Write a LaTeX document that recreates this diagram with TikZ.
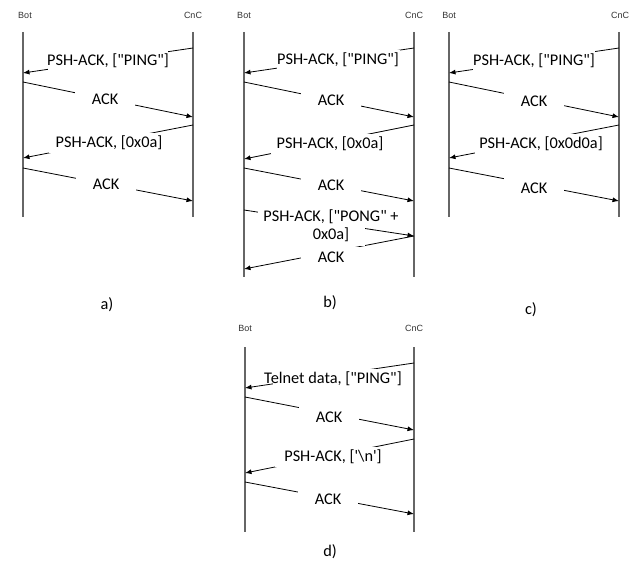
\documentclass[tikz,border=0pt]{standalone}
\usepackage{fontspec}
\setmainfont{Carlito}[Ligatures=TeXOff]
\newfontfamily\hdrfont{Liberation Sans}
\usetikzlibrary{arrows.meta}
\begin{document}
\begin{tikzpicture}[x=1pt,y=-1pt,
  life/.style={draw=black!60, line width=1.3pt},
  msg/.style={draw=black, line width=0.8pt, -{Latex[length=6.5pt,width=5pt]}},
  lbl/.style={fill=white, inner sep=0pt, minimum height=20pt, font=\fontsize{16.3}{19}\selectfont, text=black},
  ack/.style={lbl, minimum width=60pt},
  psh/.style={lbl, minimum width=120pt},
  hdr/.style={font=\hdrfont\fontsize{9}{10}\selectfont, text=black!80, inner sep=0pt},
  captxt/.style={font=\fontsize{16.3}{19}\selectfont, inner sep=0pt}]
\useasboundingbox (0,0) rectangle (636,567);

% ---------------- panel a ----------------
\coordinate (aBt) at (23,32); \coordinate (aBb) at (23,217);
\coordinate (aCt) at (193,32); \coordinate (aCb) at (193,217);
\node[hdr] (aBot) at (25,15) {Bot};
\node[hdr] (aCnC) at (193,15) {CnC};
\draw[life] (aBt) -- (aBb);
\draw[life] (aCt) -- (aCb);
\coordinate (a1s) at (193,48);  \coordinate (a1e) at (23,73);
\coordinate (a2s) at (23,82);   \coordinate (a2e) at (193,117);
\coordinate (a3s) at (193,125); \coordinate (a3e) at (23,158);
\coordinate (a4s) at (23,168);  \coordinate (a4e) at (193,201);
\draw[msg] (a1s) -- (a1e);
\draw[msg] (a2s) -- (a2e);
\draw[msg] (a3s) -- (a3e);
\draw[msg] (a4s) -- (a4e);
\node[psh] (a1l) at (108,61) {\makebox[0pt]{PSH-ACK, ["PING"]}};
\node[ack] (a2l) at (105,99.5) {\makebox[0pt]{ACK}};
\node[psh] (a3l) at (109,143) {\makebox[0pt]{PSH-ACK, [0x0a]}};
\node[ack] (a4l) at (106,184) {\makebox[0pt]{ACK}};
\node[captxt] (acap) at (107,305) {a)};

% ---------------- panel b ----------------
\coordinate (bBt) at (244,32); \coordinate (bBb) at (244,277);
\coordinate (bCt) at (414,32); \coordinate (bCb) at (414,277);
\node[hdr] (bBot) at (244,15) {Bot};
\node[hdr] (bCnC) at (414,15) {CnC};
\draw[life] (bBt) -- (bBb);
\draw[life] (bCt) -- (bCb);
\coordinate (b1s) at (414,48);  \coordinate (b1e) at (244,73);
\coordinate (b2s) at (244,82);  \coordinate (b2e) at (414,117);
\coordinate (b3s) at (414,125); \coordinate (b3e) at (244,159);
\coordinate (b4s) at (244,168); \coordinate (b4e) at (414,201);
\coordinate (b5s) at (244,210); \coordinate (b5e) at (414,236);
\coordinate (b6s) at (414,236); \coordinate (b6e) at (244,269);
\draw[msg] (b1s) -- (b1e);
\draw[msg] (b2s) -- (b2e);
\draw[msg] (b3s) -- (b3e);
\draw[msg] (b4s) -- (b4e);
\draw[msg] (b5s) -- (b5e);
\draw[msg] (b6s) -- (b6e);
\node[lbl, minimum width=123pt] (b1l) at (338,60) {\makebox[0pt]{PSH-ACK, ["PING"]}};
\node[ack] (b2l) at (331,100) {\makebox[0pt]{ACK}};
\node[lbl, minimum width=118pt] (b3l) at (330,144) {\makebox[0pt]{PSH-ACK, [0x0a]}};
\node[ack] (b4l) at (331,185) {\makebox[0pt]{ACK}};
\node[lbl, minimum width=107pt, minimum height=37pt] (b5l) at (311,227)
  {\makebox[0pt]{\hspace*{40pt}\begin{tabular}{@{}c@{}}PSH-ACK, ["PONG" +\\[-1pt]0x0a]\end{tabular}}};
\node[ack] (b6l) at (331,257) {\makebox[0pt]{ACK}};
\node[captxt] (bcap) at (330,303) {b)};

% ---------------- panel c ----------------
\coordinate (cBt) at (449,32); \coordinate (cBb) at (449,217);
\coordinate (cCt) at (619,32); \coordinate (cCb) at (619,217);
\node[hdr] (cBot) at (449,15) {Bot};
\node[hdr] (cCnC) at (620,15) {CnC};
\draw[life] (cBt) -- (cBb);
\draw[life] (cCt) -- (cCb);
\coordinate (c1s) at (619,48);  \coordinate (c1e) at (449,73);
\coordinate (c2s) at (449,82);  \coordinate (c2e) at (619,117);
\coordinate (c3s) at (619,125); \coordinate (c3e) at (449,158);
\coordinate (c4s) at (449,168); \coordinate (c4e) at (619,201);
\draw[msg] (c1s) -- (c1e);
\draw[msg] (c2s) -- (c2e);
\draw[msg] (c3s) -- (c3e);
\draw[msg] (c4s) -- (c4e);
\node[lbl, minimum width=122pt] (c1l) at (534,61) {\makebox[0pt]{PSH-ACK, ["PING"]}};
\node[ack] (c2l) at (534,101) {\makebox[0pt]{ACK}};
\node[lbl, minimum width=112pt] (c3l) at (531,144) {\makebox[0pt]{\hspace*{20pt}PSH-ACK, [0x0d0a]}};
\node[ack, minimum height=24pt] (c4l) at (534,188) {\makebox[0pt]{ACK}};
\node[captxt] (ccap) at (531,310) {c)};

% ---------------- panel d ----------------
\coordinate (dBt) at (245,347); \coordinate (dBb) at (245,532);
\coordinate (dCt) at (414,347); \coordinate (dCb) at (414,532);
\node[hdr] (dBot) at (245,328) {Bot};
\node[hdr] (dCnC) at (414,328) {CnC};
\draw[life] (dBt) -- (dBb);
\draw[life] (dCt) -- (dCb);
\coordinate (d1s) at (414,363); \coordinate (d1e) at (245,388);
\coordinate (d2s) at (245,397); \coordinate (d2e) at (414,430);
\coordinate (d3s) at (414,439); \coordinate (d3e) at (245,473);
\coordinate (d4s) at (245,482); \coordinate (d4e) at (414,514);
\draw[msg] (d1s) -- (d1e);
\draw[msg] (d2s) -- (d2e);
\draw[msg] (d3s) -- (d3e);
\draw[msg] (d4s) -- (d4e);
\node[lbl, minimum width=121pt] (d1l) at (333,378.5) {\makebox[0pt]{Telnet data, ["PING"]}};
\node[ack, minimum height=24pt] (d2l) at (329,417) {\makebox[0pt]{ACK}};
\node[lbl, minimum width=117pt] (d3l) at (333,457) {\makebox[0pt]{PSH-ACK, ['\textbackslash n']}};
\node[ack] (d4l) at (328,499) {\makebox[0pt]{ACK}};
\node[captxt] (dcap) at (330,552) {d)};
\end{tikzpicture}
\end{document}
